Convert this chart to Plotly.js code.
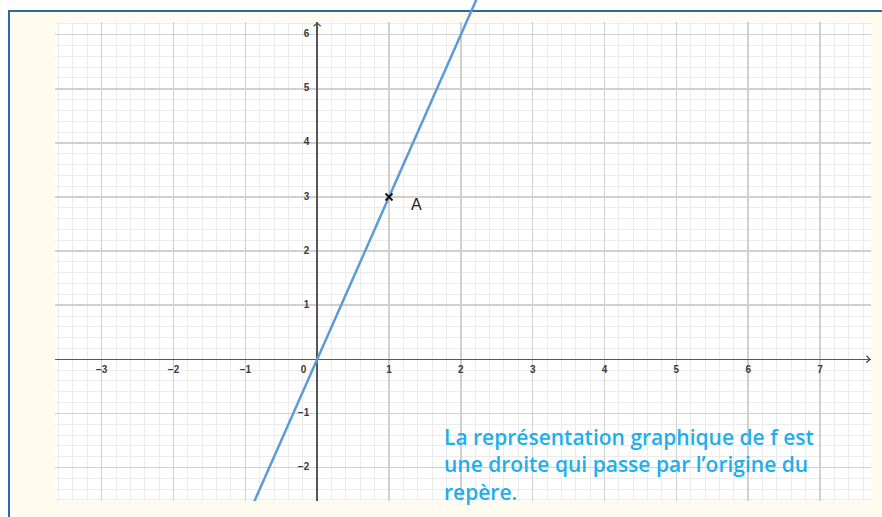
<!DOCTYPE html>
<html><head><meta charset="utf-8">
<script src="https://cdn.plot.ly/plotly-3.0.1.min.js"></script>
<style>html,body{margin:0;padding:0;background:#fff;}#chart{width:882px;height:517px;}</style>
</head><body><div id="chart"></div>
<script>
// f(x) = 3x, drawn through two points
const lineX = [-1, 3];
const lineY = [-3, 9];
// point A
const pointX = [1];
const pointY = [3];
const pointLabel = ['A'];
// tick labels
const xTickVals = [-3, -2, -1, 1, 2, 3, 4, 5, 6, 7];
const xTickText = ['−3', '−2', '−1', '1', '2', '3', '4', '5', '6', '7'];
const yTickVals = [-2, -1, 1, 2, 3, 4, 5, 6];
const yTickText = ['−2', '−1', '1', '2', '3', '4', '5', '6'];
const originLabel = ['0'];
const captionLines = ['La représentation graphique de f est', 'une droite qui passe par l’origine du', 'repère.'];

// geometry (pixels)
const W = 882, H = 517, ML = 55, MR = 11, MT = 0, MB = 16;
const PW = W - ML - MR, PH = H - MT - MB;
const gridTopPx = 22;
const PXY = 54.1;
const xRange = [-3.650, 7.710];
const yBottom = -2.619;
const yTopGrid = yBottom + (PH - gridTopPx) / PXY;
const yTopFull = yBottom + PH / PXY;
const px2paperX = p => (p - ML) / PW;
const px2paperY = p => (PH + MT - p) / PH;

const tickFont = {family: 'Liberation Sans, Arial, sans-serif', size: 10, color: '#3a3a3a', weight: 'bold'};

const traces = [
  {x: xTickVals, y: xTickVals.map(() => -0.215), text: xTickText, mode: 'text',
   textposition: 'middle center', textfont: tickFont, xaxis: 'x', yaxis: 'y', hoverinfo: 'skip', showlegend: false},
  {x: yTickVals.map(() => -0.11), y: yTickVals, text: yTickText, mode: 'text',
   textposition: 'middle left', textfont: tickFont, xaxis: 'x', yaxis: 'y', hoverinfo: 'skip', showlegend: false},
  {x: [-0.19], y: [-0.215], text: originLabel, mode: 'text', textposition: 'middle center',
   textfont: tickFont, xaxis: 'x', yaxis: 'y', hoverinfo: 'skip', showlegend: false},
  {x: lineX, y: lineY, mode: 'lines', line: {color: '#5b9bd8', width: 2.5},
   xaxis: 'x2', yaxis: 'y2', hoverinfo: 'skip', showlegend: false},
  {x: pointX, y: pointY, mode: 'markers', marker: {symbol: 'x-thin', size: 7, color: '#111', line: {color: '#111', width: 1.8}},
   xaxis: 'x2', yaxis: 'y2', hoverinfo: 'skip', showlegend: false},
  {x: pointX.map(v => v + 0.38), y: pointY.map(v => v - 0.16), text: pointLabel, mode: 'text',
   textposition: 'middle center', textfont: {family: 'Liberation Sans, Arial, sans-serif', size: 16, color: '#222'},
   xaxis: 'x2', yaxis: 'y2', hoverinfo: 'skip', showlegend: false}
];

const axisCommon = {showticklabels: false, ticks: '', showline: false, fixedrange: true};

const annotations = [{
  xref: 'x', yref: 'y', x: 1.733, y: (359.3 - 464) / PXY,
  xanchor: 'left', yanchor: 'middle', align: 'left', showarrow: false,
  text: captionLines.join('<br>'),
  font: {family: 'Open Sans, sans-serif', size: 21, color: '#21aeea', weight: 600}
}];

const layout = {
  width: W, height: H, autosize: false,
  margin: {l: ML, r: MR, t: MT, b: MB, pad: 0},
  paper_bgcolor: '#fffbef',
  plot_bgcolor: 'rgba(0,0,0,0)',
  showlegend: false,
  xaxis: Object.assign({}, axisCommon, {
    range: xRange, domain: [0, 1], anchor: 'y',
    dtick: 1, tick0: 0, showgrid: true, gridcolor: '#d0d0d0', gridwidth: 1.5,
    minor: {dtick: 0.2, tick0: 0, showgrid: true, gridcolor: '#ebebeb', gridwidth: 1},
    zeroline: true, zerolinecolor: '#555', zerolinewidth: 1.6
  }),
  yaxis: Object.assign({}, axisCommon, {
    range: [yBottom, yTopGrid], domain: [0, (PH - gridTopPx) / PH], anchor: 'x',
    dtick: 1, tick0: 0, showgrid: true, gridcolor: '#d0d0d0', gridwidth: 1.5,
    minor: {dtick: 0.2, tick0: 0, showgrid: true, gridcolor: '#ebebeb', gridwidth: 1},
    zeroline: true, zerolinecolor: '#555', zerolinewidth: 1.6
  }),
  xaxis2: Object.assign({}, axisCommon, {range: xRange, domain: [0, 1], anchor: 'y2', visible: false, showgrid: false, zeroline: false}),
  yaxis2: Object.assign({}, axisCommon, {range: [yBottom, yTopFull], domain: [0, 1], anchor: 'x2', visible: false, showgrid: false, zeroline: false}),
  shapes: [
    {type: 'rect', xref: 'paper', yref: 'paper', layer: 'below', x0: 0, x1: 1, y0: 0, y1: (PH - gridTopPx) / PH,
     fillcolor: '#ffffff', line: {width: 0}},
    {type: 'rect', xref: 'paper', yref: 'paper', layer: 'below', x0: px2paperX(0), x1: px2paperX(W), y0: px2paperY(11), y1: px2paperY(0),
     fillcolor: '#ffffff', line: {width: 0}},
    {type: 'rect', xref: 'paper', yref: 'paper', layer: 'below', x0: px2paperX(0), x1: px2paperX(9), y0: px2paperY(H), y1: px2paperY(0),
     fillcolor: '#ffffff', line: {width: 0}},
    {type: 'line', xref: 'paper', yref: 'paper', layer: 'below', x0: px2paperX(8), x1: px2paperX(W), y0: px2paperY(11), y1: px2paperY(11),
     line: {color: '#2c67a5', width: 2}},
    {type: 'line', xref: 'paper', yref: 'paper', layer: 'below', x0: px2paperX(9), x1: px2paperX(9), y0: px2paperY(11), y1: px2paperY(H),
     line: {color: '#2c67a5', width: 2}},
    {type: 'path', xref: 'x', yref: 'y', layer: 'above',
     path: 'M -0.05,' + (yTopGrid - 0.08) + ' L 0,' + (yTopGrid - 0.02) + ' L 0.05,' + (yTopGrid - 0.08),
     line: {color: '#555', width: 1.4}},
    {type: 'path', xref: 'x', yref: 'y', layer: 'above',
     path: 'M ' + (xRange[1] - 0.065) + ',0.065 L ' + (xRange[1] - 0.014) + ',0 L ' + (xRange[1] - 0.065) + ',-0.065',
     line: {color: '#555', width: 1.4}}
  ],
  annotations: annotations
};

Plotly.newPlot('chart', traces, layout, {staticPlot: true, displayModeBar: false});
</script>
</body></html>
